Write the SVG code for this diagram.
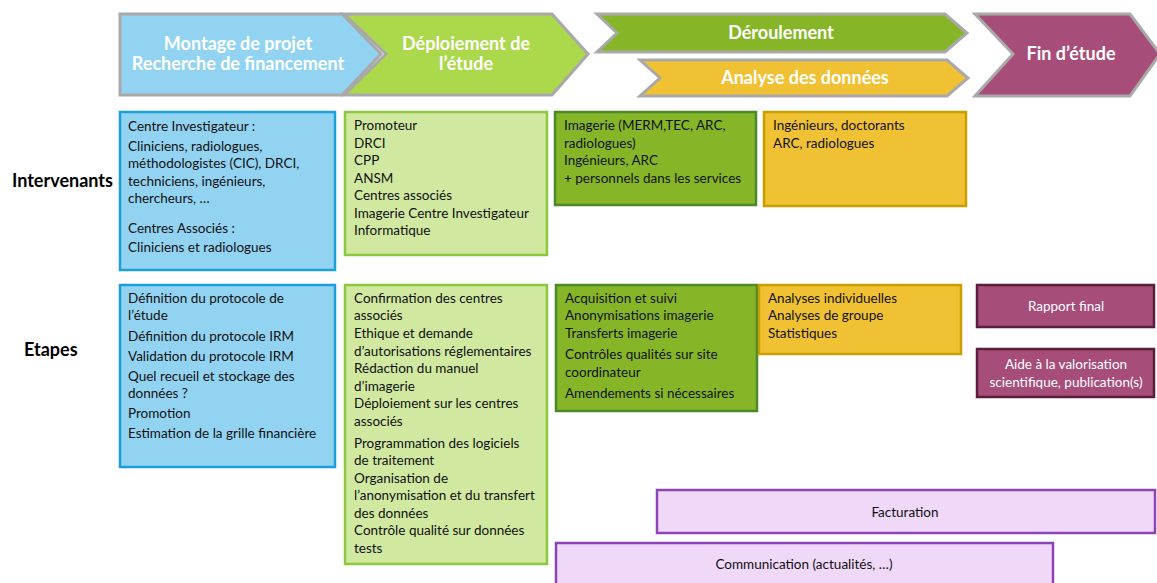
<svg xmlns="http://www.w3.org/2000/svg" width="1157" height="583" viewBox="0 0 1157 583">
<style>
.chev{stroke:#a9a9a9;stroke-width:3;stroke-linejoin:miter}
.ht{font-family:Lato,"Open Sans",sans-serif;font-weight:bold;font-size:18px;fill:#fff;text-anchor:middle}
.lbl{font-family:Lato,"Open Sans",sans-serif;font-weight:bold;font-size:18px;fill:#000}
.t{font-family:Lato,"Open Sans",sans-serif;font-size:13.5px;fill:#111}
.tw{font-family:Lato,"Open Sans",sans-serif;font-size:13.5px;fill:#fff;text-anchor:middle}
.tc{font-family:Lato,"Open Sans",sans-serif;font-size:13.5px;fill:#111;text-anchor:middle}
.blue{fill:#92d3f1;stroke:#1c9fd8;stroke-width:2.5}
.lg{fill:#d0e8a0;stroke:#8dc63f;stroke-width:2.5}
.dg{fill:#86b627;stroke:#4a8a2a;stroke-width:2.5}
.yl{fill:#f0c132;stroke:#c89e00;stroke-width:2.5}
.pu{fill:#a64d79;stroke:#5a1d3e;stroke-width:2.5}
.lp{fill:#efd8f8;stroke:#8e44b8;stroke-width:2.5}
</style>
<rect width="1157" height="583" fill="#fff"/>
<g id="header">
<g id="h-montage"><polygon class="chev" fill="#92d3f1" points="120,14 342,14 381,54 342,95 120,95"/>
<text class="ht" x="238" y="50">Montage de projet</text><text class="ht" x="238" y="70">Recherche de financement</text></g>
<g id="h-deploiement"><polygon class="chev" fill="#acd94c" points="344,14 552,14 588,54 552,95 344,95 386,54"/>
<text class="ht" x="466" y="50">Déploiement de</text><text class="ht" x="466" y="70">l’étude</text></g>
<g id="h-deroulement"><polygon class="chev" fill="#86b627" points="597,14 945,14 967,33 945,52 597,52 617,33"/>
<text class="ht" x="781" y="39">Déroulement</text></g>
<g id="h-analyse"><polygon class="chev" fill="#f0c132" points="640,60 947,60 968,78 947,96 640,96 660,78"/>
<text class="ht" x="805" y="84">Analyse des données</text></g>
<g id="h-fin"><polygon class="chev" fill="#a64d79" points="975,14 1130,14 1160,54 1130,96 975,96 1013,54"/>
<text class="ht" x="1071" y="60">Fin d’étude</text></g>
</g>
<g id="row-labels">
<text class="lbl" x="12" y="187">Intervenants</text>
<text class="lbl" x="24" y="356">Etapes</text>
</g>
<g id="int-montage"><rect class="blue" x="120" y="112" width="215" height="158"/>
<text class="t" x="128" y="131">Centre Investigateur :</text>
<text class="t" x="128" y="151">Cliniciens, radiologues,</text>
<text class="t" x="128" y="168">méthodologistes (CIC), DRCI,</text>
<text class="t" x="128" y="186">techniciens, ingénieurs,</text>
<text class="t" x="128" y="203">chercheurs, …</text>
<text class="t" x="128" y="233">Centres Associés :</text>
<text class="t" x="128" y="252">Cliniciens et radiologues</text></g>
<g id="int-deploiement"><rect class="lg" x="345" y="112" width="202" height="143"/>
<text class="t" x="354" y="130">Promoteur</text>
<text class="t" x="354" y="147.5">DRCI</text>
<text class="t" x="354" y="165">CPP</text>
<text class="t" x="354" y="182.5">ANSM</text>
<text class="t" x="354" y="200">Centres associés</text>
<text class="t" x="354" y="217.5">Imagerie Centre Investigateur</text>
<text class="t" x="354" y="235">Informatique</text></g>
<g id="int-deroulement"><rect class="dg" x="555" y="112" width="201" height="93"/>
<text class="t" x="564" y="130">Imagerie (MERM,TEC, ARC,</text>
<text class="t" x="564" y="147.5">radiologues)</text>
<text class="t" x="564" y="165">Ingénieurs, ARC</text>
<text class="t" x="564" y="182.5">+ personnels dans les services</text></g>
<g id="int-analyse"><rect class="yl" x="764" y="112" width="202" height="94"/>
<text class="t" x="773" y="130">Ingénieurs, doctorants</text>
<text class="t" x="773" y="147.5">ARC, radiologues</text></g>
<g id="et-montage"><rect class="blue" x="120" y="285" width="215" height="182"/>
<text class="t" x="128" y="303">Définition du protocole de</text>
<text class="t" x="128" y="320">l’étude</text>
<text class="t" x="128" y="341">Définition du protocole IRM</text>
<text class="t" x="128" y="361">Validation du protocole IRM</text>
<text class="t" x="128" y="381">Quel recueil et stockage des</text>
<text class="t" x="128" y="398">données ?</text>
<text class="t" x="128" y="418">Promotion</text>
<text class="t" x="128" y="438">Estimation de la grille financière</text></g>
<g id="et-deploiement"><rect class="lg" x="345" y="285" width="202" height="279"/>
<text class="t" x="354" y="302.5">Confirmation des centres</text>
<text class="t" x="354" y="320">associés</text>
<text class="t" x="354" y="338">Ethique et demande</text>
<text class="t" x="354" y="355.5">d’autorisations réglementaires</text>
<text class="t" x="354" y="373">Rédaction du manuel</text>
<text class="t" x="354" y="390.5">d’imagerie</text>
<text class="t" x="354" y="408">Déploiement sur les centres</text>
<text class="t" x="354" y="425.5">associés</text>
<text class="t" x="354" y="447.5">Programmation des logiciels</text>
<text class="t" x="354" y="465">de traitement</text>
<text class="t" x="354" y="483">Organisation de</text>
<text class="t" x="354" y="500">l’anonymisation et du transfert</text>
<text class="t" x="354" y="517.5">des données</text>
<text class="t" x="354" y="535">Contrôle qualité sur données</text>
<text class="t" x="354" y="552.5">tests</text></g>
<g id="et-deroulement"><rect class="dg" x="556" y="285" width="201" height="126"/>
<text class="t" x="565" y="302.5">Acquisition et suivi</text>
<text class="t" x="565" y="320">Anonymisations imagerie</text>
<text class="t" x="565" y="338">Transferts imagerie</text>
<text class="t" x="565" y="359">Contrôles qualités sur site</text>
<text class="t" x="565" y="377">coordinateur</text>
<text class="t" x="565" y="397.5">Amendements si nécessaires</text></g>
<g id="et-analyse"><rect class="yl" x="759" y="285" width="202" height="69"/>
<text class="t" x="768" y="302.5" fill="#000">Analyses individuelles</text>
<text class="t" x="768" y="320" fill="#000">Analyses de groupe</text>
<text class="t" x="768" y="338" fill="#000">Statistiques</text></g>
<g id="et-rapport"><rect class="pu" x="977" y="285" width="177" height="42"/>
<text class="tw" x="1066" y="311">Rapport final</text></g>
<g id="et-aide"><rect class="pu" x="977" y="349" width="177" height="48"/>
<text class="tw" x="1066" y="369">Aide à la valorisation</text>
<text class="tw" x="1066" y="387">scientifique, publication(s)</text></g>
<g id="facturation"><rect class="lp" x="657" y="490" width="498" height="43"/>
<text class="tc" x="905" y="517">Facturation</text></g>
<g id="communication"><rect class="lp" x="556" y="543" width="497" height="45"/>
<text class="tc" x="804" y="569">Communication (actualités, …)</text></g>
<g id="connectors"/>
</svg>
